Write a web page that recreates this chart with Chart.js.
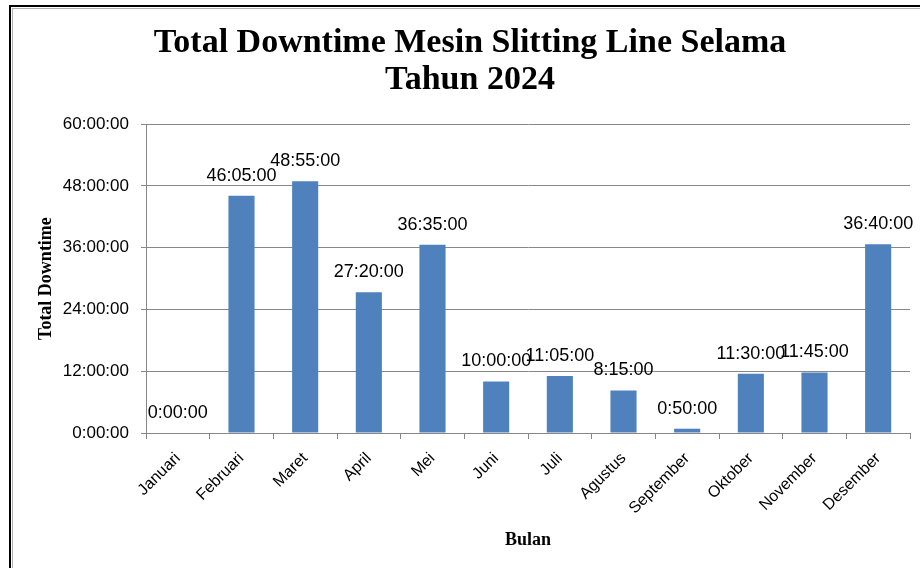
<!DOCTYPE html>
<html>
<head>
<meta charset="utf-8">
<script src="https://cdn.jsdelivr.net/npm/chart.js@4.4.1/dist/chart.umd.min.js"></script>
<style>
  html, body { margin: 0; padding: 0; background: #ffffff; }
  #wrap { position: relative; width: 920px; height: 568px; }
</style>
</head>
<body>
<div id="wrap"><canvas id="c" width="920" height="568"></canvas></div>
<script>
const months = ["Januari", "Februari", "Maret", "April", "Mei", "Juni", "Juli", "Agustus", "September", "Oktober", "November", "Desember"];
const downtime = ["0:00:00", "46:05:00", "48:55:00", "27:20:00", "36:35:00", "10:00:00", "11:05:00", "8:15:00", "0:50:00", "11:30:00", "11:45:00", "36:40:00"];
const yTicks = [0, 12, 24, 36, 48, 60];
const titleLines = ["Total Downtime Mesin Slitting Line Selama", "Tahun 2024"];
const yTitle = "Total Downtime";
const xTitle = "Bulan";

function toHours(s) {
  const p = s.split(":").map(Number);
  return p[0] + p[1] / 60 + p[2] / 3600;
}
function fmt(h) {
  const total = Math.round(h * 3600);
  const hh = Math.floor(total / 3600);
  const mm = Math.floor((total % 3600) / 60);
  const ss = total % 60;
  return hh + ":" + String(mm).padStart(2, "0") + ":" + String(ss).padStart(2, "0");
}
const values = downtime.map(toHours);

const frame = {
  id: "frame",
  beforeDraw(chart) {
    const ctx = chart.ctx;
    ctx.save();
    ctx.fillStyle = "#ffffff";
    ctx.fillRect(0, 0, chart.width, chart.height);
    ctx.fillStyle = "#b0b0b0";
    ctx.fillRect(12, 8, chart.width, 1);
    ctx.fillRect(12, 8, 1, chart.height);
    ctx.fillStyle = "#000000";
    ctx.fillRect(9, 5, chart.width, 2);
    ctx.fillRect(9, 5, 2, chart.height);
    ctx.restore();
  }
};

const barLabels = {
  id: "barLabels",
  afterDatasetsDraw(chart) {
    const ctx = chart.ctx;
    const meta = chart.getDatasetMeta(0);
    ctx.save();
    ctx.font = "18px 'Liberation Sans', Arial, sans-serif";
    ctx.fillStyle = "#000000";
    ctx.textAlign = "center";
    ctx.textBaseline = "bottom";
    meta.data.forEach((bar, i) => {
      ctx.fillText(downtime[i], bar.x, bar.y - 11);
    });
    ctx.restore();
  }
};

new Chart(document.getElementById("c"), {
  type: "bar",
  data: {
    labels: months,
    datasets: [{
      data: values,
      backgroundColor: "#4f81bd",
      borderWidth: 0,
      categoryPercentage: 1.0,
      barPercentage: 0.41
    }]
  },
  options: {
    responsive: false,
    animation: false,
    devicePixelRatio: 1,
    layout: { padding: { left: 30, right: 10, top: 0, bottom: 0 } },
    plugins: {
      legend: { display: false },
      tooltip: { enabled: false },
      title: {
        display: true,
        text: titleLines,
        color: "#000000",
        font: { family: "'Liberation Serif', 'Times New Roman', serif", size: 34, weight: "bold", lineHeight: 1.09 },
        padding: { top: 25, bottom: 25 }
      }
    },
    scales: {
      x: {
        grid: { display: true, drawOnChartArea: false, drawTicks: true, tickLength: 6, color: "#878787", offset: true },
        border: { display: true, color: "#878787", width: 1 },
        ticks: {
          color: "#000000",
          minRotation: 45,
          maxRotation: 45,
          padding: 10,
          font: { family: "'Liberation Sans', Arial, sans-serif", size: 16 }
        },
        title: {
          display: true,
          text: xTitle,
          color: "#000000",
          font: { family: "'Liberation Serif', 'Times New Roman', serif", size: 18, weight: "bold", lineHeight: 1.2 },
          padding: { top: 0, bottom: 17 }
        },
        afterFit(scale) { scale.height = 135; }
      },
      y: {
        min: 0,
        max: 60,
        afterBuildTicks(scale) { scale.ticks = yTicks.map(v => ({ value: v })); },
        grid: { color: "#878787", drawTicks: true, tickLength: 5 },
        border: { display: true, color: "#878787", width: 1 },
        ticks: {
          color: "#000000",
          padding: 12,
          font: { family: "'Liberation Sans', Arial, sans-serif", size: 17 },
          callback: (v) => fmt(v)
        },
        title: {
          display: true,
          text: yTitle,
          color: "#000000",
          font: { family: "'Liberation Serif', 'Times New Roman', serif", size: 18, weight: "bold", lineHeight: 1.2 },
          padding: { top: 6, bottom: 0 }
        },
        afterFit(scale) { scale.width = 116; }
      }
    }
  },
  plugins: [frame, barLabels]
});
</script>
</body>
</html>
